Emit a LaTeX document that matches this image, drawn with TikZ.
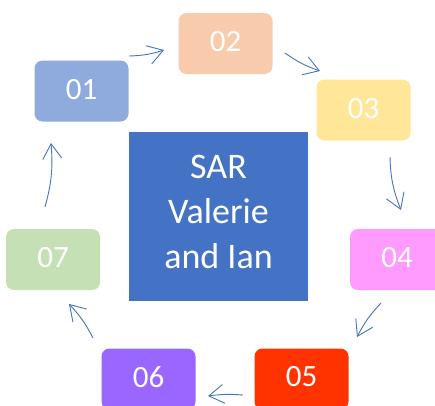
\documentclass[tikz,border=0pt]{standalone}
\usepackage{fontspec}
\setmainfont{Carlito}
\usetikzlibrary{arrows.meta}
\definecolor{cA}{HTML}{8FAADC}
\definecolor{cB}{HTML}{F8CBAD}
\definecolor{cC}{HTML}{FFE699}
\definecolor{cD}{HTML}{FF9BFF}
\definecolor{cE}{HTML}{FF3300}
\definecolor{cF}{HTML}{9966FF}
\definecolor{cG}{HTML}{C5E0B4}
\definecolor{cMid}{HTML}{4472C4}
\tikzset{
  stepbox/.style={rounded corners=8pt, inner sep=0pt, minimum width=94pt, minimum height=61pt},
  steplabel/.style={text=white, inner sep=0pt, font=\fontsize{31}{37}\selectfont},
  midbox/.style={fill=cMid, inner sep=0pt, minimum width=179pt, minimum height=169pt},
  midlabel/.style={text=white, inner sep=0pt, align=center, font=\fontsize{36}{45}\selectfont},
  flow/.style={draw=cMid, line width=0.9pt, -{Straight Barb[length=15pt,width=19pt,line width=0.9pt]}},
}
\begin{document}
\begin{tikzpicture}[x=1pt,y=-1pt]
\useasboundingbox (0,0) rectangle (435,405);
\clip (0,0) rectangle (435,405);
% boxes
\node[stepbox, fill=cA] (b1) at (81.5,91) {};
\node[stepbox, fill=cB] (b2) at (225.5,43.5) {};
\node[stepbox, fill=cC] (b3) at (363.5,110) {};
\node[stepbox, fill=cD] (b4) at (397,259.5) {};
\node[stepbox, fill=cE] (b5) at (301.5,379) {};
\node[stepbox, fill=cF] (b6) at (148.5,379) {};
\node[stepbox, fill=cG] (b7) at (53,259.5) {};
\node[steplabel] (t1) at (81.5,89.5) {01};
\node[steplabel] (t2) at (225.5,42) {02};
\node[steplabel] (t3) at (363.5,108.5) {03};
\node[steplabel] (t4) at (397,258) {04};
\node[steplabel] (t5) at (301.5,377) {05};
\node[steplabel] (t6) at (148.5,377) {06};
\node[steplabel] (t7) at (53,258) {07};
\node[midbox] (mid) at (218.5,216.5) {};
\node[midlabel] (midtext) at (218.5,212) {SAR\\Valerie\\and Ian};
% arrow ends
\coordinate (s1) at (129,56);  \coordinate (e1) at (164,50);
\coordinate (s2) at (285,53);  \coordinate (e2) at (320,71);
\coordinate (s3) at (390,157); \coordinate (e3) at (401,210);
\coordinate (s4) at (381,303); \coordinate (e4) at (357,337);
\coordinate (s5) at (243,395); \coordinate (e5) at (208,396);
\coordinate (s6) at (93,338);  \coordinate (e6) at (69,304);
\coordinate (s7) at (45,207);  \coordinate (e7) at (51,143);
\draw[flow] (s1) to[bend right=8] (e1);
\draw[flow] (s2) to[bend right=8] (e2);
\draw[flow] (s3) to[bend right=10] (e3);
\draw[flow] (s4) to[bend right=8] (e4);
\draw[flow] (s5) to[bend right=6] (e5);
\draw[flow] (s6) to[bend right=8] (e6);
\draw[flow] (s7) to[bend right=10] (e7);
\end{tikzpicture}
\end{document}
